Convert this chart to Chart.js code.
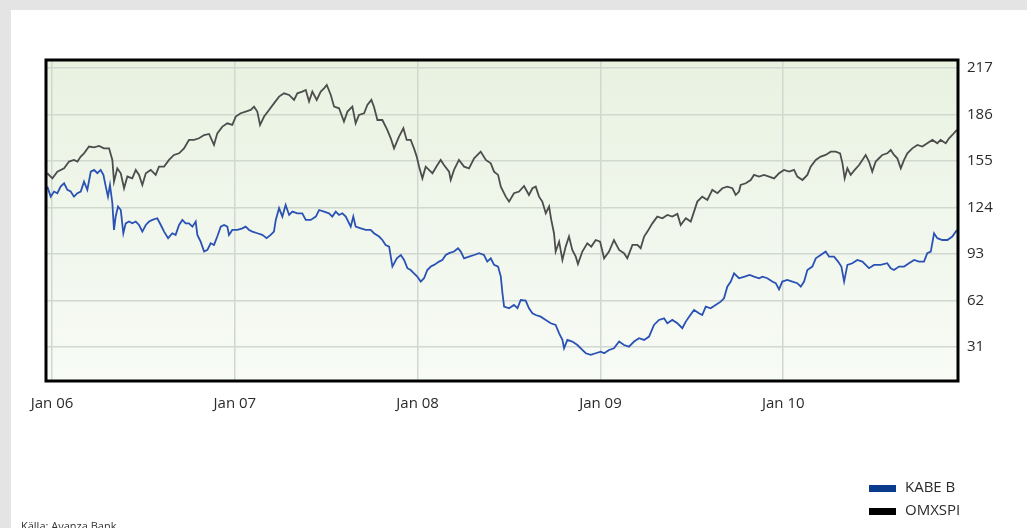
<!DOCTYPE html>
<html><head><meta charset="utf-8">
<script src="https://cdn.jsdelivr.net/npm/chart.js@4.4.1/dist/chart.umd.min.js"></script>
<style>
html,body{margin:0;padding:0;width:1027px;height:528px;overflow:hidden;background:#e4e4e4;font-family:"Open Sans",sans-serif;}
#panel{position:absolute;left:11px;top:10px;width:1016px;height:518px;background:#fff;}
#c{position:absolute;left:0;top:0;}
.sw{position:absolute;left:869px;width:27px;height:7px;}
.lt{position:absolute;left:905px;font-size:15px;line-height:20px;color:#2a2a2a;white-space:nowrap;}
#src{position:absolute;left:21px;top:519px;font-size:11px;line-height:13px;color:#333;white-space:nowrap;}
</style></head>
<body>
<div id="panel"></div>
<canvas id="c" width="1027" height="528"></canvas>
<div id="legend"></div>
<div id="src">Källa: Avanza Bank</div>
<script>
const seriesNames = ["KABE B", "OMXSPI"];
const legendColors = ["#0b3b8c", "#000000"];
const xTickYears = [2006, 2007, 2008, 2009, 2010];
const yTickValues = [31, 62, 93, 124, 155, 186, 217];

const kabeDates = [2005.974,2005.993,2006.011,2006.029,2006.047,2006.066,2006.084,2006.102,2006.120,2006.139,2006.157,2006.175,2006.193,2006.212,2006.230,2006.248,2006.266,2006.281,2006.294,2006.306,2006.317,2006.330,2006.339,2006.348,2006.361,2006.376,2006.390,2006.403,2006.421,2006.439,2006.458,2006.476,2006.494,2006.513,2006.531,2006.549,2006.576,2006.595,2006.613,2006.635,2006.658,2006.676,2006.695,2006.713,2006.731,2006.749,2006.768,2006.786,2006.795,2006.813,2006.832,2006.850,2006.868,2006.886,2006.904,2006.923,2006.941,2006.959,2006.968,2006.986,2007.014,2007.041,2007.059,2007.078,2007.096,2007.123,2007.150,2007.174,2007.196,2007.214,2007.224,2007.242,2007.260,2007.278,2007.297,2007.315,2007.342,2007.369,2007.388,2007.415,2007.443,2007.461,2007.488,2007.515,2007.533,2007.552,2007.570,2007.588,2007.607,2007.634,2007.648,2007.661,2007.689,2007.716,2007.743,2007.761,2007.789,2007.807,2007.825,2007.844,2007.862,2007.886,2007.908,2007.926,2007.944,2007.962,2007.980,2007.998,2008.017,2008.035,2008.053,2008.072,2008.090,2008.117,2008.135,2008.154,2008.172,2008.199,2008.221,2008.236,2008.254,2008.281,2008.309,2008.336,2008.363,2008.381,2008.400,2008.418,2008.440,2008.455,2008.464,2008.473,2008.500,2008.527,2008.546,2008.564,2008.591,2008.609,2008.628,2008.646,2008.673,2008.701,2008.728,2008.755,2008.774,2008.792,2008.801,2008.819,2008.846,2008.874,2008.901,2008.920,2008.947,2008.974,2009.002,2009.020,2009.047,2009.074,2009.102,2009.129,2009.156,2009.184,2009.211,2009.239,2009.266,2009.293,2009.320,2009.348,2009.366,2009.393,2009.421,2009.448,2009.467,2009.485,2009.512,2009.539,2009.557,2009.576,2009.603,2009.630,2009.658,2009.676,2009.694,2009.713,2009.731,2009.758,2009.789,2009.816,2009.840,2009.868,2009.886,2009.913,2009.940,2009.959,2009.977,2009.995,2010.022,2010.050,2010.077,2010.096,2010.114,2010.132,2010.159,2010.178,2010.205,2010.232,2010.251,2010.278,2010.300,2010.318,2010.333,2010.351,2010.378,2010.405,2010.433,2010.451,2010.469,2010.497,2010.533,2010.569,2010.588,2010.606,2010.633,2010.661,2010.688,2010.716,2010.743,2010.770,2010.788,2010.807,2010.825,2010.843,2010.870,2010.898,2010.925,2010.950];
const kabeValues = [137.9,131.2,134.6,133.5,137.9,140.1,135.7,134.6,131.2,133.5,134.6,141.2,135.7,147.9,149.0,146.8,149.0,145.7,137.9,131.2,139.0,126.8,109.0,117.9,124.6,122.3,106.8,113.4,114.6,113.4,114.6,112.3,107.9,112.3,114.6,115.7,116.8,112.3,107.9,103.5,106.8,105.7,112.3,115.7,113.4,113.4,111.2,114.6,105.7,101.2,94.6,95.7,100.1,99.0,104.6,111.2,112.3,111.2,105.7,109.0,109.0,110.1,111.2,109.0,107.9,106.8,105.7,103.5,105.7,107.9,115.7,123.5,117.9,125.7,119.0,121.2,120.1,120.1,115.7,115.7,117.9,122.3,121.2,120.1,117.9,121.2,119.0,120.1,117.9,111.2,117.9,111.2,110.1,109.0,109.0,106.8,104.6,102.3,99.0,97.9,84.6,90.1,92.3,89.0,83.5,82.3,80.1,77.9,74.6,76.8,82.3,84.6,85.7,87.9,89.0,92.3,93.5,94.6,96.8,94.6,90.1,91.2,92.3,93.5,92.3,87.9,90.1,85.7,84.6,77.9,66.8,57.9,56.8,59.0,56.8,62.3,61.9,56.8,53.5,52.3,51.2,49.0,46.8,45.7,40.1,35.7,30.1,35.7,34.6,32.3,29.0,26.8,25.7,26.8,27.9,26.8,29.0,30.1,34.6,32.3,31.2,34.6,36.8,35.7,37.9,45.7,49.0,50.1,46.8,49.0,46.8,43.5,47.9,51.2,55.7,53.5,52.3,57.9,56.8,59.0,61.2,63.4,71.2,74.6,80.1,76.8,77.9,79.0,77.9,76.8,77.9,76.8,74.6,73.5,69.4,74.6,75.7,74.6,73.5,71.2,74.6,82.3,84.6,90.1,92.3,94.6,91.2,91.2,87.9,84.6,74.6,85.7,86.8,89.0,87.9,85.7,83.5,85.7,85.7,86.8,83.5,82.3,84.6,84.6,86.8,89.0,87.9,87.9,93.5,94.6,106.8,103.5,102.3,102.3,104.6,109.0];

const omxDates = [2005.974,2006.002,2006.029,2006.066,2006.093,2006.120,2006.139,2006.157,2006.175,2006.202,2006.230,2006.257,2006.284,2006.312,2006.330,2006.339,2006.357,2006.376,2006.394,2006.412,2006.439,2006.458,2006.476,2006.494,2006.513,2006.540,2006.567,2006.585,2006.613,2006.640,2006.667,2006.695,2006.722,2006.749,2006.777,2006.804,2006.832,2006.859,2006.886,2006.904,2006.932,2006.959,2006.986,2007.005,2007.032,2007.059,2007.087,2007.105,2007.123,2007.138,2007.160,2007.187,2007.214,2007.242,2007.269,2007.297,2007.324,2007.342,2007.369,2007.388,2007.406,2007.424,2007.448,2007.470,2007.488,2007.503,2007.525,2007.543,2007.570,2007.597,2007.616,2007.643,2007.661,2007.679,2007.707,2007.725,2007.747,2007.761,2007.780,2007.807,2007.834,2007.853,2007.871,2007.898,2007.922,2007.940,2007.962,2007.980,2007.995,2008.008,2008.026,2008.044,2008.062,2008.081,2008.108,2008.126,2008.144,2008.172,2008.181,2008.199,2008.226,2008.254,2008.281,2008.309,2008.345,2008.373,2008.400,2008.418,2008.440,2008.455,2008.482,2008.500,2008.527,2008.555,2008.582,2008.609,2008.628,2008.646,2008.664,2008.682,2008.701,2008.719,2008.731,2008.746,2008.755,2008.774,2008.792,2008.810,2008.828,2008.846,2008.865,2008.877,2008.901,2008.928,2008.950,2008.974,2008.998,2009.020,2009.047,2009.074,2009.102,2009.129,2009.147,2009.175,2009.202,2009.220,2009.239,2009.257,2009.284,2009.311,2009.339,2009.366,2009.393,2009.421,2009.439,2009.467,2009.494,2009.512,2009.530,2009.557,2009.585,2009.612,2009.640,2009.667,2009.694,2009.722,2009.740,2009.758,2009.767,2009.795,2009.822,2009.840,2009.868,2009.895,2009.922,2009.950,2009.977,2010.004,2010.032,2010.059,2010.077,2010.105,2010.132,2010.150,2010.178,2010.205,2010.232,2010.260,2010.287,2010.311,2010.324,2010.336,2010.351,2010.369,2010.391,2010.415,2010.433,2010.451,2010.469,2010.487,2010.506,2010.524,2010.542,2010.569,2010.588,2010.606,2010.624,2010.643,2010.661,2010.679,2010.706,2010.734,2010.761,2010.788,2010.816,2010.843,2010.861,2010.889,2010.907,2010.925,2010.950];
const omxValues = [146.8,143.4,147.9,150.1,154.6,155.7,154.6,157.9,160.1,164.6,164.1,165.0,163.4,163.4,155.7,141.2,150.1,146.8,136.8,144.6,143.4,149.0,145.7,139.0,146.8,149.0,145.7,151.2,151.2,155.7,159.0,160.1,163.4,169.0,169.0,170.1,172.3,173.0,165.7,173.4,177.9,180.1,179.0,184.6,186.8,187.9,189.0,191.2,187.9,179.0,184.6,189.0,193.4,197.9,200.1,199.0,195.7,200.1,201.2,202.3,194.6,201.2,195.7,201.2,203.4,205.7,199.0,191.2,190.1,181.2,187.9,191.2,180.1,185.7,186.8,192.3,195.7,191.2,182.3,182.3,175.7,170.1,163.4,171.2,176.8,169.0,169.0,163.4,157.9,151.2,143.4,151.2,149.0,146.8,152.3,155.7,152.3,147.9,142.3,149.0,155.7,151.2,150.1,156.8,161.2,155.7,153.4,147.9,145.7,137.9,131.2,127.9,133.5,134.6,138.3,132.3,136.8,137.9,131.2,127.9,120.1,124.6,115.7,106.8,94.6,101.2,89.0,97.9,104.6,95.7,91.2,86.3,94.6,100.1,97.9,102.3,101.2,90.1,94.6,102.3,95.7,93.5,90.1,99.0,99.0,96.8,104.6,107.9,113.4,117.9,116.8,119.0,117.9,119.7,112.3,116.8,114.6,121.2,127.9,131.2,129.0,135.7,133.5,136.8,137.9,136.8,132.3,134.6,139.0,140.1,142.3,145.7,144.6,145.7,144.6,143.4,146.8,149.0,147.9,149.0,144.6,142.3,145.7,151.2,155.7,157.9,159.0,161.2,161.2,160.1,153.4,143.4,150.1,145.7,149.0,152.3,155.7,159.0,154.6,147.9,154.6,156.8,159.0,160.1,162.3,159.0,156.8,150.1,155.7,160.1,163.4,165.7,164.6,166.8,169.0,166.8,169.0,166.8,170.1,172.3,175.7];

const xMin = 2005.967, xMax = 2010.956;
const yMin = 8.3, yMax = 222.3;

const toPoints = (xs, ys) => xs.map((x, i) => ({x: x, y: ys[i]}));

const bgPlugin = {
  id: 'bg',
  beforeDraw(chart) {
    const {ctx, chartArea: a} = chart;
    const g = ctx.createLinearGradient(0, a.top, 0, a.bottom);
    g.addColorStop(0, '#e9f2e1');
    g.addColorStop(1, '#f8fbf6');
    ctx.save();
    ctx.fillStyle = g;
    ctx.fillRect(a.left, a.top, a.right - a.left, a.bottom - a.top);
    ctx.restore();
  },
  afterDatasetsDraw(chart) {
    const {ctx, chartArea: a} = chart;
    ctx.save();
    ctx.strokeStyle = '#000';
    ctx.lineWidth = 3;
    ctx.strokeRect(a.left, a.top, a.right - a.left, a.bottom - a.top);
    ctx.restore();
  }
};

const font = {family: '"Open Sans", sans-serif', size: 15};

new Chart(document.getElementById('c'), {
  type: 'line',
  data: {
    datasets: [
      {label: seriesNames[0], data: toPoints(kabeDates, kabeValues), borderColor: '#2a52b5', borderWidth: 1.8, pointRadius: 0, tension: 0, fill: false},
      {label: seriesNames[1], data: toPoints(omxDates, omxValues), borderColor: '#4d4d4d', borderWidth: 1.8, pointRadius: 0, tension: 0, fill: false}
    ]
  },
  options: {
    responsive: false,
    animation: false,
    devicePixelRatio: 1,
    layout: {padding: {left: 46, top: 60, right: 0, bottom: 0}},
    plugins: {legend: {display: false}, tooltip: {enabled: false}},
    scales: {
      x: {
        type: 'linear', min: xMin, max: xMax,
        afterBuildTicks: s => { s.ticks = xTickYears.map(v => ({value: v})); },
        afterFit: s => { s.height = 147; },
        ticks: {callback: v => 'Jan ' + String(v).slice(2), padding: 14, color: '#2a2a2a', font: font, maxRotation: 0, autoSkip: false},
        grid: {color: '#d0d8cf', lineWidth: 1.5, drawTicks: false},
        border: {display: false}
      },
      y: {
        position: 'right', min: yMin, max: yMax,
        afterBuildTicks: s => { s.ticks = yTickValues.map(v => ({value: v})); },
        afterFit: s => { s.width = 69; },
        ticks: {padding: 9, color: '#2a2a2a', font: font, autoSkip: false},
        grid: {color: '#d0d8cf', lineWidth: 1.5, drawTicks: false},
        border: {display: false}
      }
    }
  },
  plugins: [bgPlugin]
});

const legend = document.getElementById('legend');
const legendTops = [485, 508];
seriesNames.forEach((name, i) => {
  const sw = document.createElement('div');
  sw.className = 'sw';
  sw.style.top = legendTops[i] + 'px';
  sw.style.background = legendColors[i];
  legend.appendChild(sw);
  const t = document.createElement('div');
  t.className = 'lt';
  t.style.top = (legendTops[i] - 9) + 'px';
  t.textContent = name;
  legend.appendChild(t);
});
</script>
</body></html>
